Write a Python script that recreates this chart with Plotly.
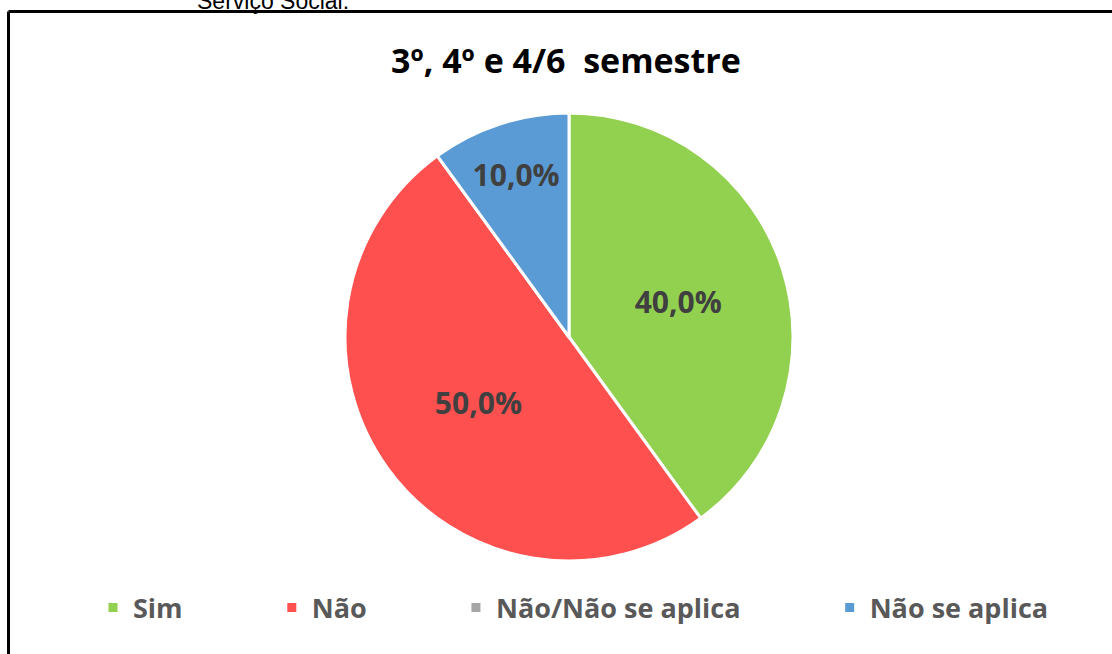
import plotly.graph_objects as go

categories = ["Sim", "Não", "Não/Não se aplica", "Não se aplica"]
values = [40.0, 50.0, 0.0, 10.0]
colors = ["#92D050", "#FF5050", "#A5A5A5", "#5B9BD5"]
title_text = "3º, 4º e 4/6  semestre"
caption_text = "Serviço Social:"

W, H = 1112, 654
labels_txt = [f"{v:.1f}%".replace(".", ",") if v > 0 else "" for v in values]
# pad legend entries (except the last) to reproduce the wide spacing of the original legend
PAD = "\u00a0" * 12
legend_labels = [c + (PAD if i < len(categories) - 1 else "") for i, c in enumerate(categories)]

fig = go.Figure()
fig.add_trace(go.Pie(
    labels=legend_labels,
    values=values,
    text=labels_txt,
    textinfo="text",
    textposition="inside",
    insidetextorientation="horizontal",
    sort=False,
    direction="clockwise",
    rotation=0,
    marker=dict(colors=colors, line=dict(color="white", width=3)),
    textfont=dict(family="Open Sans", size=30, color="#404040", weight="bold"),
    domain=dict(x=[340 / W, 798 / W], y=[(H - 561) / H, (H - 113) / H]),
    hoverinfo="label+percent",
))

fig.update_layout(
    width=W, height=H,
    margin=dict(l=0, r=0, t=0, b=0),
    paper_bgcolor="white",
    plot_bgcolor="white",
    showlegend=True,
    legend=dict(
        orientation="h",
        x=93 / W, xanchor="left",
        y=(H - 608) / H, yanchor="middle",
        font=dict(family="Open Sans", size=27, color="#595959", weight="bold"),
        itemwidth=30,
        traceorder="normal",
    ),
    annotations=[
        dict(text=f"<b>{title_text}</b>", x=566 / W, y=(H - 60) / H,
             xref="paper", yref="paper", showarrow=False,
             xanchor="center", yanchor="middle",
             font=dict(family="Open Sans", size=34, color="#000000")),
        dict(text=caption_text, x=195 / W, y=1 - 1 / H,
             xref="paper", yref="paper", showarrow=False,
             xanchor="left", yanchor="middle",
             font=dict(family="Liberation Sans", size=23, color="#000000")),
    ],
    shapes=[
        dict(type="line", xref="paper", yref="paper",
             x0=8.5 / W, x1=1.01, y0=(H - 11.5) / H, y1=(H - 11.5) / H,
             line=dict(color="black", width=3)),
        dict(type="line", xref="paper", yref="paper",
             x0=8.5 / W, x1=8.5 / W, y0=-0.01, y1=(H - 11.5) / H,
             line=dict(color="black", width=3)),
    ],
)

fig.write_html("out.html", config={"displayModeBar": False},
               post_script="document.body.style.margin='0';document.body.style.overflow='hidden';")
